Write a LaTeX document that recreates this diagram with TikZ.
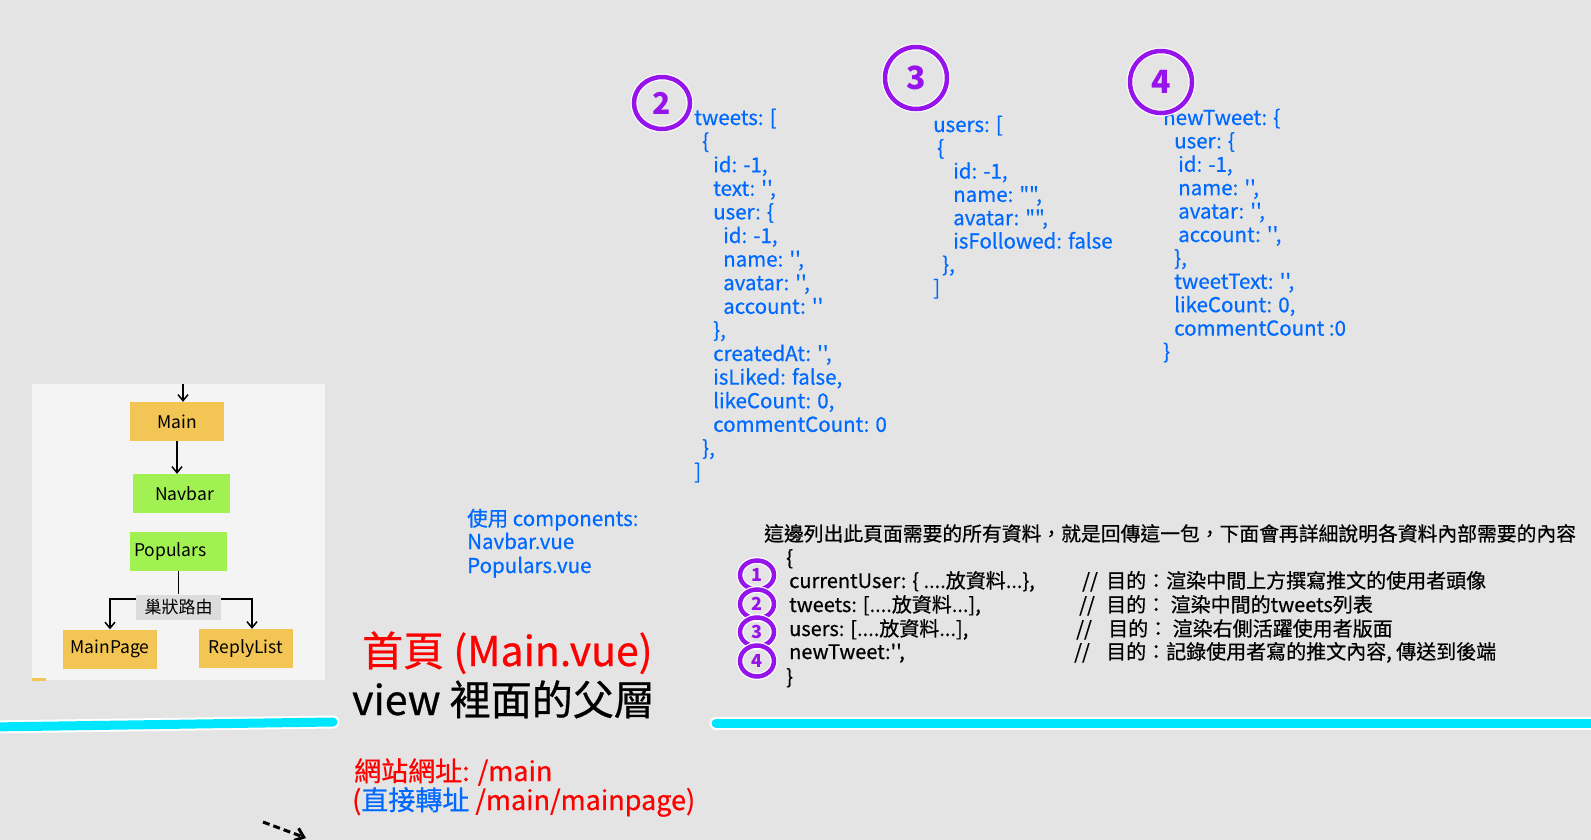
\documentclass[tikz,border=0pt]{standalone}
\usepackage{fontspec}
\setmainfont{Noto Sans CJK TC}[Ligatures=TeXOff]
\newfontfamily\heavyfont{Noto Sans CJK TC}[Ligatures=TeXOff, FakeBold=0.6]
\usetikzlibrary{arrows.meta,shapes.geometric}
\definecolor{bg}{HTML}{E4E4E4}
\definecolor{panel}{HTML}{F4F4F4}
\definecolor{orng}{HTML}{F2C554}
\definecolor{grn}{HTML}{A2F153}
\definecolor{lblgray}{HTML}{DCDCDC}
\definecolor{codeblue}{RGB}{0,105,255}
\definecolor{purp}{RGB}{150,20,235}
\definecolor{cyanline}{HTML}{00E6FF}
\definecolor{redtxt}{RGB}{255,0,0}
\begin{document}
\begin{tikzpicture}[x=1pt,y=-1pt,
  code/.style={anchor=base west, inner sep=0, text=codeblue, font=\heavyfont\fontsize{20.5pt}{24pt}\selectfont},
  blk/.style={anchor=base west, inner sep=0, text=black, font=\heavyfont\fontsize{20pt}{24pt}\selectfont},
  ttl/.style={anchor=base west, inner sep=0, font=\heavyfont\fontsize{41pt}{44pt}\selectfont},
  url/.style={anchor=base west, inner sep=0, text=redtxt, font=\heavyfont\fontsize{27pt}{30pt}\selectfont},
  box/.style={rectangle, inner sep=0, minimum width=#1, minimum height=39, font=\fontsize{17.5pt}{20pt}\selectfont},
  arr/.style={black, line width=1.5, -{Straight Barb[length=6pt,width=10pt]}},
  ring/.style={ellipse, draw=white, line width=1.2, double=purp, double distance=4.5, inner sep=0, text=purp},
  cyanbar/.style={draw=white, line width=2, double=cyanline, double distance=9, line cap=round}]
\useasboundingbox (0,0) rectangle (1591,840);
\fill[bg] (0,0) rectangle (1591,840);

% left panel
\fill[panel] (32,384) rectangle (325,680);
\fill[orng] (32,678) rectangle (46,681);
\node[box=94, fill=orng] (Main) at (177,421.5) {Main};
\node[box=97, fill=grn] (Navbar) at (181.5,493.5) {\hspace*{6pt}Navbar};
\node[box=97, fill=grn] (Populars) at (178.5,551.5) {Populars\hspace*{16pt}};
\node[rectangle, fill=lblgray, inner sep=0, minimum width=85, minimum height=25, font=\fontsize{17pt}{20pt}\selectfont] (lbl) at (178.5,607) {巢狀路由};
\node[box=94, fill=orng] (MainPage) at (110,649) {MainPage};
\node[box=94, fill=orng] (ReplyList) at (246,648.5) {ReplyList};
\coordinate (mainin) at (183,384);
\draw[arr] (mainin) -- (mainin |- Main.north);
\draw[arr] (Main.south) -- (Main.south |- Navbar.north);
\draw[black, line width=1.5] (Populars.south) -- (Populars.south |- lbl.north);
\draw[arr] ([yshift=8pt]lbl.west) -| (MainPage.north);
\draw[arr] ([yshift=8pt]lbl.east) -| ([xshift=6pt]ReplyList.north);

% cyan bars
\coordinate (cl1) at (-10,727);
\coordinate (cl2) at (333,722);
\coordinate (cr1) at (716,723);
\coordinate (cr2) at (1610,723);
\draw[cyanbar] (cl1) -- (cl2);
\draw[cyanbar] (cr1) -- (cr2);

% dashed arrow at bottom
\coordinate (da) at (263,822);
\coordinate (db) at (306,838);
\draw[black, line width=3, dash pattern=on 7pt off 4pt, -{Straight Barb[length=8pt,width=13pt]}] (da) -- (db);

% titles
\node[ttl, text=redtxt] (title1) at (362,666) {首頁 (Main.vue)};
\node[ttl, text=black] (title2) at (352,715) {view 裡面的父層};
\node[url] (url1) at (354,781) {網站網址: /main};
\node[url] (url2) at (352,810) {(\textcolor{codeblue}{直接轉址}\ /main/mainpage)};

% components
\node[code] (comp1) at (467,526) {使用 components:};
\node[code] (comp2) at (467,549) {Navbar.vue};
\node[code] (comp3) at (467,573) {Populars.vue};

% tweets block
\foreach \x/\t [count=\n from 0] in {694/{tweets: [}, 702/{\{}, 713/{id: -1,}, 713/{text: '',}, 713/{user: \{}, 723/{id: -1,}, 723/{name: '',}, 723/{avatar: '',}, 723/{account: ''}, 713/{\},}, 713/{createdAt: '',}, 713/{isLiked: false,}, 713/{likeCount: 0,}, 713/{commentCount: 0}, 702/{\},}, 694/{]}}
  \node[code] (tw\n) at (\x,125+23.6*\n) {\t};

% users block
\foreach \x/\t [count=\n from 0] in {933/{users: [}, 937/{\{}, 953/{id: -1,}, 953/{name: "",}, 953/{avatar: "",}, 953/{isFollowed: false}, 942/{\},}, 933/{]}}
  \node[code] (us\n) at (\x,132+23.3*\n) {\t};

% newTweet block
\foreach \x/\t [count=\n from 0] in {1163/{newTweet: \{}, 1174/{user: \{}, 1178/{id: -1,}, 1178/{name: '',}, 1178/{avatar: '',}, 1178/{account: '',}, 1174/{\},}, 1174/{tweetText: '',}, 1174/{likeCount: 0,}, 1174/{commentCount :0}, 1163/{\}}}
  \node[code] (nt\n) at (\x,125+23.4*\n) {\t};

% bottom block
\node[blk, font=\heavyfont\fontsize{19.8pt}{24pt}\selectfont] (hdr) at (764,541) {這邊列出此頁面需要的所有資料，就是回傳這一包，下面會再詳細說明各資料內部需要的內容};
\node[blk] (b0) at (786,565) {\{};
\node[blk] (b1) at (789,588) {currentUser: \{ ....放資料...\},};
\node[blk] (b2) at (789,612) {tweets: [....放資料...],};
\node[blk] (b3) at (789,636) {users: [....放資料...],};
\node[blk] (b4) at (789,659) {newTweet:'',};
\node[blk] (b5) at (786,684) {\}};
\node[blk] (s1) at (1082,588) {//};
\node[blk] (s2) at (1079,612) {//};
\node[blk] (s3) at (1076,636) {//};
\node[blk] (s4) at (1074,659) {//};
\node[blk] (m1) at (1106,588) {目的：渲染中間上方撰寫推文的使用者頭像};
\node[blk] (m2) at (1106,612) {目的： 渲染中間的tweets列表};
\node[blk] (m3) at (1108,636) {目的： 渲染右側活躍使用者版面};
\node[blk] (m4) at (1106,659) {目的：記錄使用者寫的推文內容, 傳送到後端};

% circled numbers
\node[ring, minimum width=56, minimum height=52, font=\fontsize{30pt}{30pt}\selectfont\bfseries] (c2) at (662,103) {2};
\node[ring, minimum width=62, minimum height=62, font=\fontsize{32pt}{32pt}\selectfont\bfseries] (c3) at (916,78) {3};
\node[ring, minimum width=62, minimum height=62, font=\fontsize{32pt}{32pt}\selectfont\bfseries] (c4) at (1161,82) {4};
\node[ring, minimum width=34, minimum height=29, font=\fontsize{18pt}{18pt}\selectfont\bfseries] (k1) at (757,575) {1};
\node[ring, minimum width=34, minimum height=29, font=\fontsize{18pt}{18pt}\selectfont\bfseries] (k2) at (757,604) {2};
\node[ring, minimum width=34, minimum height=29, font=\fontsize{18pt}{18pt}\selectfont\bfseries] (k3) at (757,632) {3};
\node[ring, minimum width=34, minimum height=31, font=\fontsize{18pt}{18pt}\selectfont\bfseries] (k4) at (757,661) {4};
\end{tikzpicture}
\end{document}
